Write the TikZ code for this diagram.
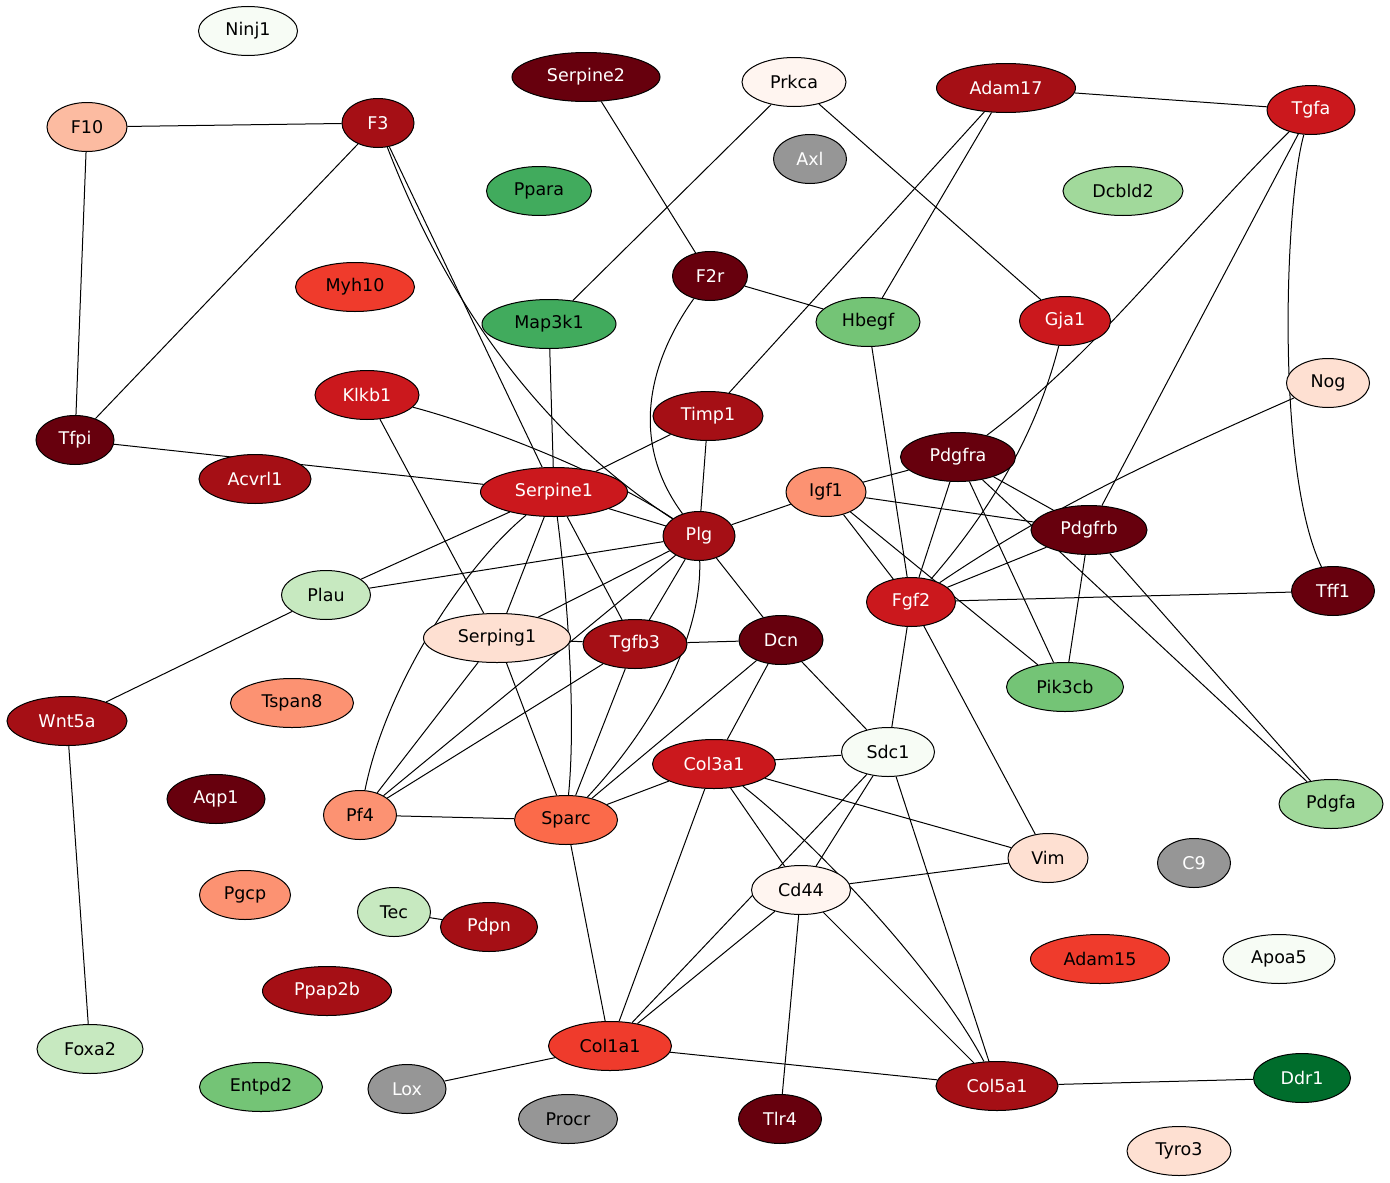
\documentclass[tikz,border=0pt]{standalone}
\usepackage{fontspec}
\setmainfont{DejaVu Sans}
\usetikzlibrary{shapes.geometric,backgrounds}
\definecolor{rA}{HTML}{67000D}
\definecolor{rB}{HTML}{A50F15}
\definecolor{rC}{HTML}{CB181D}
\definecolor{rD}{HTML}{EF3B2C}
\definecolor{rE}{HTML}{FB6A4A}
\definecolor{rF}{HTML}{FC9272}
\definecolor{rG}{HTML}{FCBBA1}
\definecolor{rH}{HTML}{FEE0D2}
\definecolor{rI}{HTML}{FFF5F0}
\definecolor{gA}{HTML}{F7FCF5}
\definecolor{gB}{HTML}{C7E9C0}
\definecolor{gC}{HTML}{A1D99B}
\definecolor{gD}{HTML}{74C476}
\definecolor{gE}{HTML}{41AB5D}
\definecolor{gF}{HTML}{006D2C}
\definecolor{gyC}{HTML}{969696}
\tikzset{
  gn/.style={ellipse, draw=black, line width=1pt, inner sep=0pt, minimum height=49pt,
    font=\fontsize{17.5}{20}\selectfont},
  fA/.style={gn, fill=rA, text=white},
  fB/.style={gn, fill=rB, text=white},
  fC/.style={gn, fill=rC, text=white},
  fD/.style={gn, fill=rD, text=black},
  fE/.style={gn, fill=rE, text=black},
  fF/.style={gn, fill=rF, text=black},
  fG/.style={gn, fill=rG, text=black},
  fH/.style={gn, fill=rH, text=black},
  fI/.style={gn, fill=rI, text=black},
  hA/.style={gn, fill=gA, text=black},
  hB/.style={gn, fill=gB, text=black},
  hC/.style={gn, fill=gC, text=black},
  hD/.style={gn, fill=gD, text=black},
  hE/.style={gn, fill=gE, text=black},
  hF/.style={gn, fill=gF, text=white},
  gyw/.style={gn, fill=gyC, text=white},
  gyb/.style={gn, fill=gyC, text=black},
  edge/.style={draw=black, line width=1pt},
  w/.style={minimum width=#1pt}
}
\begin{document}
\begin{tikzpicture}[x=1pt,y=-1pt]
\useasboundingbox (0,0) rectangle (1390,1183);
\node[hA,w=99]  (Ninj1)    at (248,31)  {Ninj1};
\node[fG,w=80]  (F10)      at (87,127)  {F10};
\node[fB,w=72]  (F3)       at (378,123) {F3};
\node[fA,w=148] (Serpine2) at (586,77)  {Serpine2};
\node[fI,w=104] (Prkca)    at (794,82)  {Prkca};
\node[fB,w=139] (Adam17)   at (1006,88) {Adam17};
\node[fC,w=88]  (Tgfa)     at (1311,110){Tgfa};
\node[gyw,w=73] (Axl)      at (810,159) {Axl};
\node[hE,w=105] (Ppara)    at (539,191) {Ppara};
\node[hC,w=120] (Dcbld2)   at (1123,191){Dcbld2};
\node[fD,w=119] (Myh10)    at (355,287) {Myh10};
\node[fA,w=75]  (F2r)      at (710,276) {F2r};
\node[hE,w=134] (Map3k1)   at (549,324) {Map3k1};
\node[hD,w=104] (Hbegf)    at (868,322) {Hbegf};
\node[fC,w=91]  (Gja1)     at (1065,321){Gja1};
\node[fH,w=83]  (Nog)      at (1328,383){Nog};
\node[fC,w=104] (Klkb1)    at (367,395) {Klkb1};
\node[fA,w=78]  (Tfpi)     at (75,440)  {Tfpi};
\node[fB,w=110] (Timp1)    at (708,416) {Timp1};
\node[fB,w=112] (Acvrl1)   at (255,479) {Acvrl1};
\node[fC,w=147] (Serpine1) at (554,492) {Serpine1};
\node[fF,w=80]  (Igf1)     at (826,492) {Igf1};
\node[fA,w=115] (Pdgfra)   at (958,457) {Pdgfra};
\node[fA,w=116] (Pdgfrb)   at (1089,530){Pdgfrb};
\node[fB,w=72]  (Plg)      at (699,536) {Plg};
\node[hB,w=89]  (Plau)     at (326,595) {Plau};
\node[fC,w=89]  (Fgf2)     at (911,602) {Fgf2};
\node[fA,w=83]  (Tff1)     at (1333,591){Tff1};
\node[fH,w=147] (Serping1) at (497,638) {Serping1};
\node[fB,w=104] (Tgfb3)    at (635,644) {Tgfb3};
\node[fA,w=84]  (Dcn)      at (781,640) {Dcn};
\node[hD,w=117] (Pik3cb)   at (1065,687){Pik3cb};
\node[fF,w=123] (Tspan8)   at (292,703) {Tspan8};
\node[fB,w=120] (Wnt5a)    at (67,721)  {Wnt5a};
\node[fC,w=123] (Col3a1)   at (714,764) {Col3a1};
\node[hA,w=93]  (Sdc1)     at (888,752) {Sdc1};
\node[fA,w=98]  (Aqp1)     at (216,799) {Aqp1};
\node[hC,w=104] (Pdgfa)    at (1331,804){Pdgfa};
\node[fF,w=73]  (Pf4)      at (360,815) {Pf4};
\node[fE,w=103] (Sparc)    at (566,820) {Sparc};
\node[fH,w=80]  (Vim)      at (1048,858){Vim};
\node[gyw,w=73] (C9)       at (1194,863){C9};
\node[fI,w=99]  (Cd44)     at (801,890) {Cd44};
\node[fF,w=91]  (Pgcp)     at (245,895) {Pgcp};
\node[hB,w=73]  (Tec)      at (394,912) {Tec};
\node[fB,w=97]  (Pdpn)     at (489,927) {Pdpn};
\node[fD,w=139] (Adam15)   at (1100,959){Adam15};
\node[hA,w=112] (Apoa5)    at (1279,959){Apoa5};
\node[fB,w=129] (Ppap2b)   at (327,991) {Ppap2b};
\node[fD,w=123] (Col1a1)   at (610,1046){Col1a1};
\node[hB,w=106] (Foxa2)    at (90,1049) {Foxa2};
\node[hF,w=97]  (Ddr1)     at (1302,1078){Ddr1};
\node[fB,w=122] (Col5a1)   at (997,1086){Col5a1};
\node[hD,w=123] (Entpd2)   at (261,1087){Entpd2};
\node[gyw,w=78] (Lox)      at (407,1089){Lox};
\node[gyb,w=99] (Procr)    at (568,1119){Procr};
\node[fA,w=83]  (Tlr4)     at (780,1119){Tlr4};
\node[fH,w=104] (Tyro3)    at (1179,1151){Tyro3};
\begin{pgfonlayer}{background}
\foreach \a/\b in {F10/F3, F10/Tfpi, F3/Tfpi, F3/Serpine1, Serpine2/F2r,
  Prkca/Map3k1, Prkca/Gja1, Adam17/Tgfa, Adam17/Hbegf, Adam17/Timp1,
  Tgfa/Pdgfrb, F2r/Hbegf, Map3k1/Serpine1, Hbegf/Fgf2,
  Klkb1/Serping1, Tfpi/Serpine1, Timp1/Serpine1, Timp1/Plg,
  Serpine1/Plg, Serpine1/Plau, Serpine1/Serping1, Serpine1/Tgfb3,
  Plg/Plau, Plg/Serping1, Plg/Pf4, Plg/Tgfb3, Plg/Dcn, Plg/Igf1,
  Plau/Wnt5a, Wnt5a/Foxa2, Serping1/Tgfb3, Serping1/Pf4, Serping1/Sparc,
  Tgfb3/Dcn, Tgfb3/Pf4, Tgfb3/Sparc, Dcn/Sparc, Dcn/Col3a1, Dcn/Sdc1,
  Pf4/Sparc, Sparc/Col3a1, Sparc/Col1a1, Col3a1/Sdc1, Col3a1/Vim,
  Col3a1/Cd44, Col3a1/Col1a1, Sdc1/Cd44, Sdc1/Col1a1,
  Sdc1/Col5a1, Sdc1/Fgf2, Cd44/Vim, Cd44/Col1a1, Cd44/Col5a1, Cd44/Tlr4,
  Col1a1/Col5a1, Col1a1/Lox, Col5a1/Ddr1, Tec/Pdpn, Igf1/Pdgfra,
  Igf1/Pdgfrb, Igf1/Fgf2, Igf1/Pik3cb, Pdgfra/Fgf2, Pdgfra/Pdgfrb,
  Pdgfra/Pik3cb, Pdgfra/Pdgfa, Pdgfrb/Fgf2, Pdgfrb/Pik3cb, Pdgfrb/Pdgfa,
  Fgf2/Tff1, Fgf2/Vim}
  \draw[edge] (\a) -- (\b);
\draw[edge] (F3) .. controls (425,245) and (505,410) .. (Plg);
\draw[edge] (F2r) .. controls (650,360) and (628,440) .. (Plg);
\draw[edge] (Klkb1) .. controls (480,425) and (600,470) .. (Plg);
\draw[edge] (Gja1) .. controls (1040,420) and (1000,500) .. (Fgf2);
\draw[edge] (Tgfa) .. controls (1180,240) and (1100,350) .. (Pdgfra);
\draw[edge] (Tgfa) .. controls (1285,200) and (1275,470) .. (Tff1);
\draw[edge] (Nog) .. controls (1130,470) and (1040,515) .. (Fgf2);
\draw[edge] (Serpine1) .. controls (568,600) and (576,720) .. (Sparc);
\draw[edge] (Plg) .. controls (702,640) and (650,730) .. (Sparc);
\draw[edge] (Serpine1) .. controls (460,570) and (385,690) .. (Pf4);
\draw[edge] (Col3a1) .. controls (800,830) and (930,960) .. (Col5a1);
\end{pgfonlayer}
\end{tikzpicture}
\end{document}
